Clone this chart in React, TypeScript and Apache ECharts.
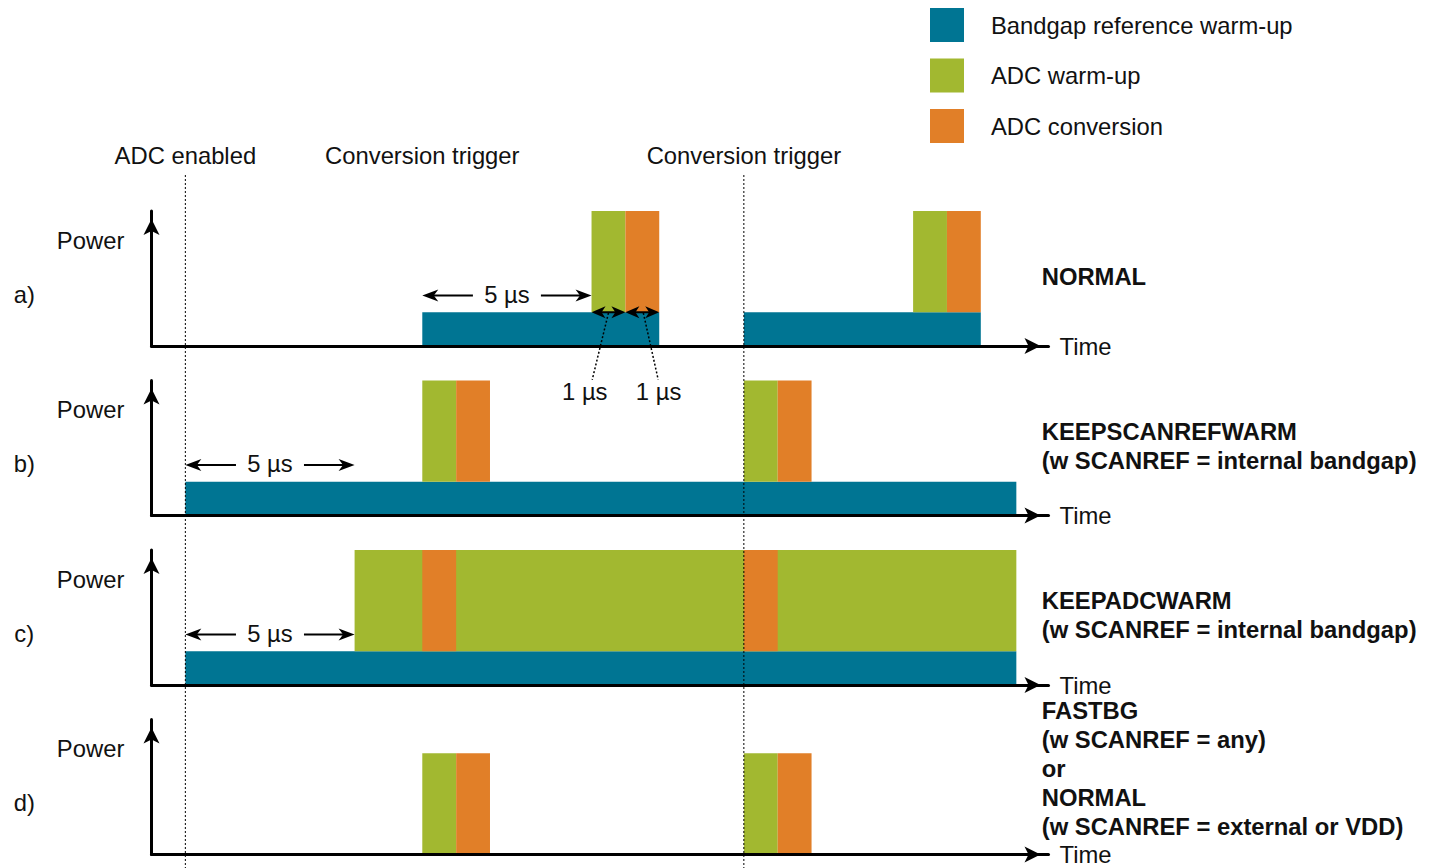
import React, { useEffect, useRef } from 'react';
import * as echarts from 'echarts';

const FONT = "'Liberation Sans', Arial, Helvetica, sans-serif";
const FONT_SIZE = 23.8;
const TEXT = '#111111';

const SERIES_NAMES = ['Bandgap reference warm-up', 'ADC warm-up', 'ADC conversion'];
const SERIES_COLORS = ['#007593', '#A2B830', '#E17F28'];

const TIME_MAX = 26.5;
const POWER_MAX = 4;

const panelLetters = ['a)', 'b)', 'c)', 'd)'];
const modeLabels = [
  ['NORMAL'],
  ['KEEPSCANREFWARM', '(w SCANREF = internal bandgap)'],
  ['KEEPADCWARM', '(w SCANREF = internal bandgap)'],
  ['FASTBG', '(w SCANREF = any)', 'or', 'NORMAL', '(w SCANREF = external or VDD)'],
];

// [start time, end time, low power, high power]
const bandgapBars = [
  [[8, 15, 0, 1], [17.5, 24.5, 0, 1]],
  [[1, 25.55, 0, 1]],
  [[1, 25.55, 0, 1]],
  [],
];
const warmupBars = [
  [[13, 14, 1, 4], [22.5, 23.5, 1, 4]],
  [[8, 9, 1, 4], [17.5, 18.5, 1, 4]],
  [[6, 25.55, 1, 4]],
  [[8, 9, 0, 3], [17.5, 18.5, 0, 3]],
];
const conversionBars = [
  [[14, 15, 1, 4], [23.5, 24.5, 1, 4]],
  [[9, 10, 1, 4], [18.5, 19.5, 1, 4]],
  [[8, 9, 1, 4], [17.5, 18.5, 1, 4]],
  [[9, 10, 0, 3], [18.5, 19.5, 0, 3]],
];

// events: time, label, dotted line
const eventTimes = [1, 8, 17.5];
const eventLabels = ['ADC enabled', 'Conversion trigger', 'Conversion trigger'];
const eventLines = [true, false, true];

// 5 µs dimension arrows: [panel, from, to, level]
const dims5us = [
  [0, 8, 13, 1.5],
  [1, 1, 6, 1.5],
  [2, 1, 6, 1.5],
];
// 1 µs spans: [panel, from, to, level]
const spans1us = [
  [0, 13, 14, 1],
  [0, 14, 15, 1],
];
// 1 µs leaders: [panel, x1, y1, x2, y2, textX, textY]
const leaders1us = [
  [0, 13.5, 0.98, 13.02, -1.0, 12.8, -1.39],
  [0, 14.53, 0.98, 14.97, -1.0, 14.98, -1.39],
];

const GRID_LEFT = 151.5;
const GRID_WIDTH = 897;
const GRID_HEIGHT = 135;
const GRID_TOPS = [211, 380.5, 550, 719.5];

function arrowHead(tip: number[], dir: number, len = 16, half = 6) {
  const bx = tip[0] - dir * len;
  return {
    type: 'polygon',
    shape: {
      points: [
        [tip[0], tip[1]],
        [bx, tip[1] - half],
        [tip[0] - dir * len * 0.72, tip[1]],
        [bx, tip[1] + half],
      ],
    },
    style: { fill: '#000' },
  };
}

function textEl(x: number, y: number, text: string, extra: any = {}) {
  return {
    type: 'text',
    x,
    y,
    style: {
      text,
      fill: TEXT,
      fontSize: FONT_SIZE,
      fontFamily: FONT,
      align: 'center',
      verticalAlign: 'middle',
      ...extra,
    },
  };
}

function buildAnnotations(panel: number) {
  const anns: any[] = [];
  dims5us.filter((d) => d[0] === panel).forEach((d) => anns.push({ kind: 'dim', x1: d[1], x2: d[2], y: d[3], text: '5 µs' }));
  spans1us.filter((d) => d[0] === panel).forEach((d) => anns.push({ kind: 'span', x1: d[1], x2: d[2], y: d[3] }));
  leaders1us
    .filter((d) => d[0] === panel)
    .forEach((d) => anns.push({ kind: 'leader', x1: d[1], y1: d[2], x2: d[3], y2: d[4], tx: d[5], ty: d[6], text: '1 µs' }));
  anns.push({ kind: 'power' });
  anns.push({ kind: 'letter', text: panelLetters[panel] });
  anns.push({ kind: 'mode', lines: modeLabels[panel] });
  return anns;
}

function App() {
  const ref = useRef<HTMLDivElement>(null);

  useEffect(() => {
    document.body.style.margin = '0';
    if (!ref.current) return;
    const chart = echarts.init(ref.current, undefined, { renderer: 'svg' });

    const grids: any[] = [];
    const xAxes: any[] = [];
    const yAxes: any[] = [];
    const series: any[] = [];

    const axisLine = {
      show: true,
      symbol: ['none', 'arrow'],
      symbolSize: [12, 16],
      symbolOffset: [0, -8],
      lineStyle: { color: '#000', width: 3 },
    };

    GRID_TOPS.forEach((top, i) => {
      grids.push({ left: GRID_LEFT, top, width: GRID_WIDTH, height: GRID_HEIGHT });
      xAxes.push({
        type: 'value',
        gridIndex: i,
        min: 0,
        max: TIME_MAX,
        z: 5,
        axisLine,
        axisTick: { show: false },
        axisLabel: { show: false },
        splitLine: { show: false },
        name: 'Time',
        nameLocation: 'end',
        nameGap: 11,
        nameTextStyle: { fontSize: FONT_SIZE, color: TEXT, fontFamily: FONT, verticalAlign: 'middle', padding: [0, 0, 2, 0] },
      });
      yAxes.push({
        type: 'value',
        gridIndex: i,
        min: 0,
        max: POWER_MAX,
        z: 5,
        axisLine,
        axisTick: { show: false },
        axisLabel: { show: false },
        splitLine: { show: false },
      });

      const kinds = [bandgapBars[i], warmupBars[i], conversionBars[i]];
      kinds.forEach((bars, k) => {
        series.push({
          type: 'custom',
          name: SERIES_NAMES[k],
          xAxisIndex: i,
          yAxisIndex: i,
          itemStyle: { color: SERIES_COLORS[k] },
          clip: false,
          z: 2,
          encode: { x: [0, 1], y: [2, 3] },
          data: bars,
          renderItem: (params: any, api: any) => {
            const p1 = api.coord([api.value(0), api.value(3)]);
            const p2 = api.coord([api.value(1), api.value(2)]);
            return {
              type: 'rect',
              shape: { x: p1[0], y: p1[1], width: p2[0] - p1[0], height: p2[1] - p1[1] },
              style: { fill: SERIES_COLORS[k] },
            };
          },
        });
      });

      const anns = buildAnnotations(i);
      series.push({
        type: 'custom',
        name: 'annotations-' + i,
        xAxisIndex: i,
        yAxisIndex: i,
        clip: false,
        z: 3,
        silent: true,
        data: anns.map(() => [0, 0]),
        renderItem: (params: any, api: any) => {
          const a = anns[params.dataIndex];
          if (a.kind === 'dim') {
            const p1 = api.coord([a.x1, a.y]);
            const p2 = api.coord([a.x2, a.y]);
            const mid = (p1[0] + p2[0]) / 2;
            const y = p1[1];
            const gap = 34;
            const ls = { stroke: '#000', lineWidth: 2 };
            return {
              type: 'group',
              children: [
                { type: 'line', shape: { x1: p1[0] + 10, y1: y, x2: mid - gap, y2: y }, style: ls },
                { type: 'line', shape: { x1: mid + gap, y1: y, x2: p2[0] - 10, y2: y }, style: ls },
                arrowHead(p1, -1),
                arrowHead(p2, 1),
                textEl(mid, y - 1, a.text),
              ],
            };
          }
          if (a.kind === 'span') {
            const p1 = api.coord([a.x1, a.y]);
            const p2 = api.coord([a.x2, a.y]);
            return {
              type: 'group',
              children: [
                { type: 'line', shape: { x1: p1[0] + 6, y1: p1[1], x2: p2[0] - 6, y2: p2[1] }, style: { stroke: '#000', lineWidth: 2 } },
                arrowHead(p1, -1, 14, 6),
                arrowHead(p2, 1, 14, 6),
              ],
            };
          }
          if (a.kind === 'leader') {
            const p1 = api.coord([a.x1, a.y1]);
            const p2 = api.coord([a.x2, a.y2]);
            const pt = api.coord([a.tx, a.ty]);
            return {
              type: 'group',
              children: [
                {
                  type: 'line',
                  shape: { x1: p1[0], y1: p1[1], x2: p2[0], y2: p2[1] },
                  style: { stroke: '#000', lineWidth: 1.5, lineDash: [2, 2] },
                },
                textEl(pt[0], pt[1] - 1, a.text),
              ],
            };
          }
          if (a.kind === 'power') {
            const p = api.coord([-1.8, 3.13]);
            return textEl(p[0], p[1], 'Power');
          }
          if (a.kind === 'letter') {
            const p = api.coord([-3.76, 1.53]);
            return textEl(p[0], p[1], a.text);
          }
          if (a.kind === 'mode') {
            const cy = a.lines.length > 3 ? 2.55 : 2.06;
            const p = api.coord([26.3, cy]);
            return textEl(p[0], p[1], a.lines.join('\n'), {
              align: 'left',
              fontWeight: 'bold',
              lineHeight: 29,
            });
          }
          return null;
        },
      });
    });

    // overlay grid for event markers spanning all panels
    const ov = GRID_TOPS.length;
    grids.push({ left: GRID_LEFT, top: 175, width: GRID_WIDTH, height: 693 });
    xAxes.push({ type: 'value', gridIndex: ov, min: 0, max: TIME_MAX, show: false });
    yAxes.push({ type: 'value', gridIndex: ov, min: 0, max: 1, show: false });
    series.push({
      type: 'custom',
      name: 'events',
      xAxisIndex: ov,
      yAxisIndex: ov,
      clip: false,
      z: 4,
      silent: true,
      data: eventTimes.map((t) => [t, 1]),
      renderItem: (params: any, api: any) => {
        const idx = params.dataIndex;
        const top = api.coord([api.value(0), 1]);
        const bot = api.coord([api.value(0), 0]);
        const children: any[] = [textEl(top[0], top[1] - 20, eventLabels[idx])];
        if (eventLines[idx]) {
          children.push({
            type: 'line',
            shape: { x1: top[0], y1: top[1], x2: bot[0], y2: bot[1] },
            style: { stroke: '#000', lineWidth: 1, lineDash: [2, 2] },
          });
        }
        return { type: 'group', children };
      },
    });

    chart.setOption({
      animation: false,
      backgroundColor: '#ffffff',
      textStyle: { fontFamily: FONT },
      legend: {
        data: SERIES_NAMES,
        orient: 'vertical',
        left: 930,
        top: 8,
        padding: 0,
        itemWidth: 34,
        itemHeight: 34,
        itemGap: 16.5,
        icon: 'rect',
        selectedMode: false,
        textStyle: { fontSize: FONT_SIZE, color: TEXT, fontFamily: FONT, padding: [0, 0, 2, 22] },
      },
      grid: grids,
      xAxis: xAxes,
      yAxis: yAxes,
      series,
    });

    return () => chart.dispose();
  }, []);

  return <div ref={ref} style={{ width: 1433, height: 868 }} />;
}

export default App;
